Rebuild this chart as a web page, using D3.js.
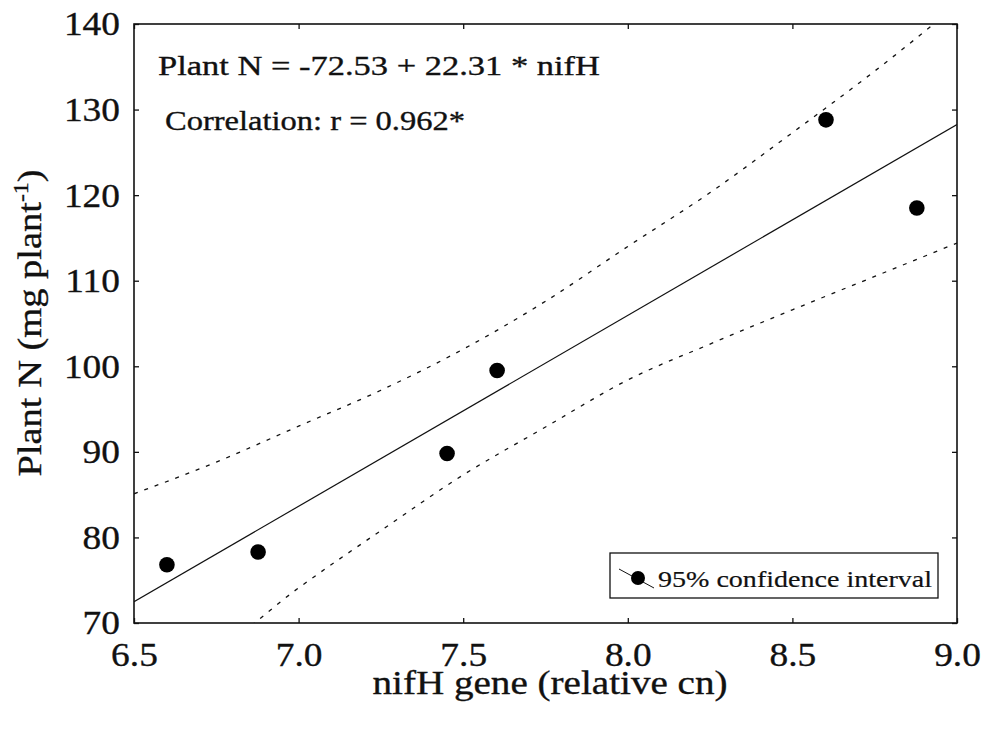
<!DOCTYPE html>
<html>
<head>
<meta charset="utf-8">
<script src="https://cdn.jsdelivr.net/npm/d3@7"></script>
<style>
  body { margin: 0; background: #fff; }
  svg { display: block; font-family: "Liberation Serif", "Times New Roman", serif; }
  svg text { stroke: #111; stroke-width: 0.35px; }
</style>
</head>
<body>
<div id="chart"></div>
<script>
// points
var nifH = [6.6, 6.877, 7.451, 7.603, 8.602, 8.878]
var plantN = [76.8, 78.3, 89.8, 99.5, 128.8, 118.5]

// regression from the printed equation
var intercept = -72.53,
    slope = 22.31

// 95% confidence bands
var bandX = [6.5, 6.75, 7.0, 7.25, 7.5, 7.75, 8.0, 8.25, 8.5, 8.75, 9.0]
var upperBand = [85.1, 88.8, 93.0, 97.2, 102.0, 107.6, 114.0, 120.3, 127.3, 134.5, 142.2]
var lowerBand = [63.0, 66.8, 74.1, 80.8, 87.3, 92.9, 98.4, 102.6, 106.6, 110.5, 114.4]

var xTicks = [6.5, 7.0, 7.5, 8.0, 8.5, 9.0]
var yTicks = [70, 80, 90, 100, 110, 120, 130, 140]

var width = 982,
    height = 729,
    margin = { top: 24, right: 25, bottom: 106, left: 134 },
    innerW = width - margin.left - margin.right,
    innerH = height - margin.top - margin.bottom

var svg = d3.select('#chart').append('svg')
    .attr('width', width)
    .attr('height', height)

var x = d3.scaleLinear().domain([6.5, 9.0]).range([0, innerW])
var y = d3.scaleLinear().domain([70, 140]).range([innerH, 0])

var g = svg.append('g')
    .attr('transform', 'translate(' + margin.left + ',' + margin.top + ')')

g.append('clipPath').attr('id', 'plot-clip')
    .append('rect').attr('width', innerW).attr('height', innerH)

// stretch text to the measured width (the source image is a bit wide)
function stretchTo(sel, w) {
    sel.attr('textLength', w).attr('lengthAdjust', 'spacingAndGlyphs')
}
function stretchBy(sel, k) {
    sel.each(function () {
        var len = this.getComputedTextLength()
        d3.select(this).attr('textLength', len * k).attr('lengthAdjust', 'spacingAndGlyphs')
    })
}

// axes, ticks pointing inwards on all four sides
var fmt = d3.format('.1f')
var axB = g.append('g').attr('transform', 'translate(0,' + innerH + ')')
    .call(d3.axisBottom(x).tickValues(xTicks).tickFormat(fmt).tickSizeInner(-5).tickSizeOuter(0).tickPadding(19))
var axT = g.append('g')
    .call(d3.axisTop(x).tickValues(xTicks).tickFormat('').tickSizeInner(-5).tickSizeOuter(0))
var axL = g.append('g')
    .call(d3.axisLeft(y).tickValues(yTicks).tickFormat(d3.format('d')).tickSizeInner(-5).tickSizeOuter(0).tickPadding(14))
var axR = g.append('g').attr('transform', 'translate(' + innerW + ',0)')
    .call(d3.axisRight(y).tickValues(yTicks).tickFormat('').tickSizeInner(-5).tickSizeOuter(0))

;[axB, axT, axL, axR].forEach(function (a) {
    a.select('.domain').remove()
    a.selectAll('.tick line').attr('stroke', '#111').attr('stroke-width', 1.3)
    a.selectAll('.tick text')
        .attr('fill', '#111')
        .style('font-family', '"Liberation Serif", serif')
        .style('font-size', '34px')
})
stretchBy(axB.selectAll('.tick text'), 1.1)
stretchBy(axL.selectAll('.tick text'), 1.1)

// frame
g.append('rect')
    .attr('width', innerW)
    .attr('height', innerH)
    .attr('fill', 'none')
    .attr('stroke', '#111')
    .attr('stroke-width', 1.6)

// confidence bands
var bandLine = function (vals) {
    return d3.line()
        .x(function (d, i) { return x(bandX[i]) })
        .y(function (d) { return y(d) })
        .curve(d3.curveMonotoneX)(vals)
}
var plot = g.append('g').attr('clip-path', 'url(#plot-clip)')
;[upperBand, lowerBand].forEach(function (b) {
    plot.append('path')
        .attr('d', bandLine(b))
        .attr('fill', 'none')
        .attr('stroke', '#111')
        .attr('stroke-width', 1.3)
        .attr('stroke-dasharray', '4,7')
})

// regression line
var xd = x.domain()
plot.append('line')
    .attr('x1', x(xd[0])).attr('y1', y(intercept + slope * xd[0]))
    .attr('x2', x(xd[1])).attr('y2', y(intercept + slope * xd[1]))
    .attr('stroke', '#111')
    .attr('stroke-width', 1.2)

// points
g.selectAll('circle.pt')
    .data(nifH)
    .enter()
    .append('circle')
    .attr('class', 'pt')
    .attr('cx', function (d) { return x(d) })
    .attr('cy', function (d, i) { return y(plantN[i]) })
    .attr('r', 7.8)
    .attr('fill', '#000')

// equation + correlation
var eq = g.append('text')
    .attr('x', 24).attr('y', 51)
    .style('font-size', '28px')
    .attr('fill', '#111')
    .text('Plant N = -72.53 + 22.31 * nifH')
stretchTo(eq, 442)
var cor = g.append('text')
    .attr('x', 31).attr('y', 106)
    .style('font-size', '28px')
    .attr('fill', '#111')
    .text('Correlation: r = 0.962*')
stretchTo(cor, 300)

// legend
var lg = g.append('g').attr('transform', 'translate(' + (610 - margin.left) + ',' + (553 - margin.top) + ')')
lg.append('rect')
    .attr('width', 328).attr('height', 45)
    .attr('fill', '#fff')
    .attr('stroke', '#111')
    .attr('stroke-width', 1.3)
lg.append('line')
    .attr('x1', 9).attr('y1', 16).attr('x2', 44).attr('y2', 35)
    .attr('stroke', '#111').attr('stroke-width', 1)
lg.append('circle')
    .attr('cx', 28).attr('cy', 25).attr('r', 7)
    .attr('fill', '#000')
var lt = lg.append('text')
    .attr('x', 48).attr('y', 34)
    .style('font-size', '24px')
    .attr('fill', '#111')
    .style('stroke-width', '0.2px')
    .text('95% confidence interval')
stretchTo(lt, 274)

// axis titles
var xt = svg.append('text')
    .attr('x', 550).attr('y', 694)
    .attr('text-anchor', 'middle')
    .style('font-size', '34px')
    .attr('fill', '#111')
    .text('nifH gene (relative cn)')
stretchTo(xt, 355)

var yt = svg.append('text')
    .attr('transform', 'translate(41,323) rotate(-90)')
    .attr('text-anchor', 'middle')
    .style('font-size', '34px')
    .attr('fill', '#111')
yt.append('tspan').text('Plant N (mg plant')
yt.append('tspan').attr('dy', -13).style('font-size', '21px').text('-1')
yt.append('tspan').attr('dy', 13).text(')')
stretchTo(yt, 307)
</script>
</body>
</html>
